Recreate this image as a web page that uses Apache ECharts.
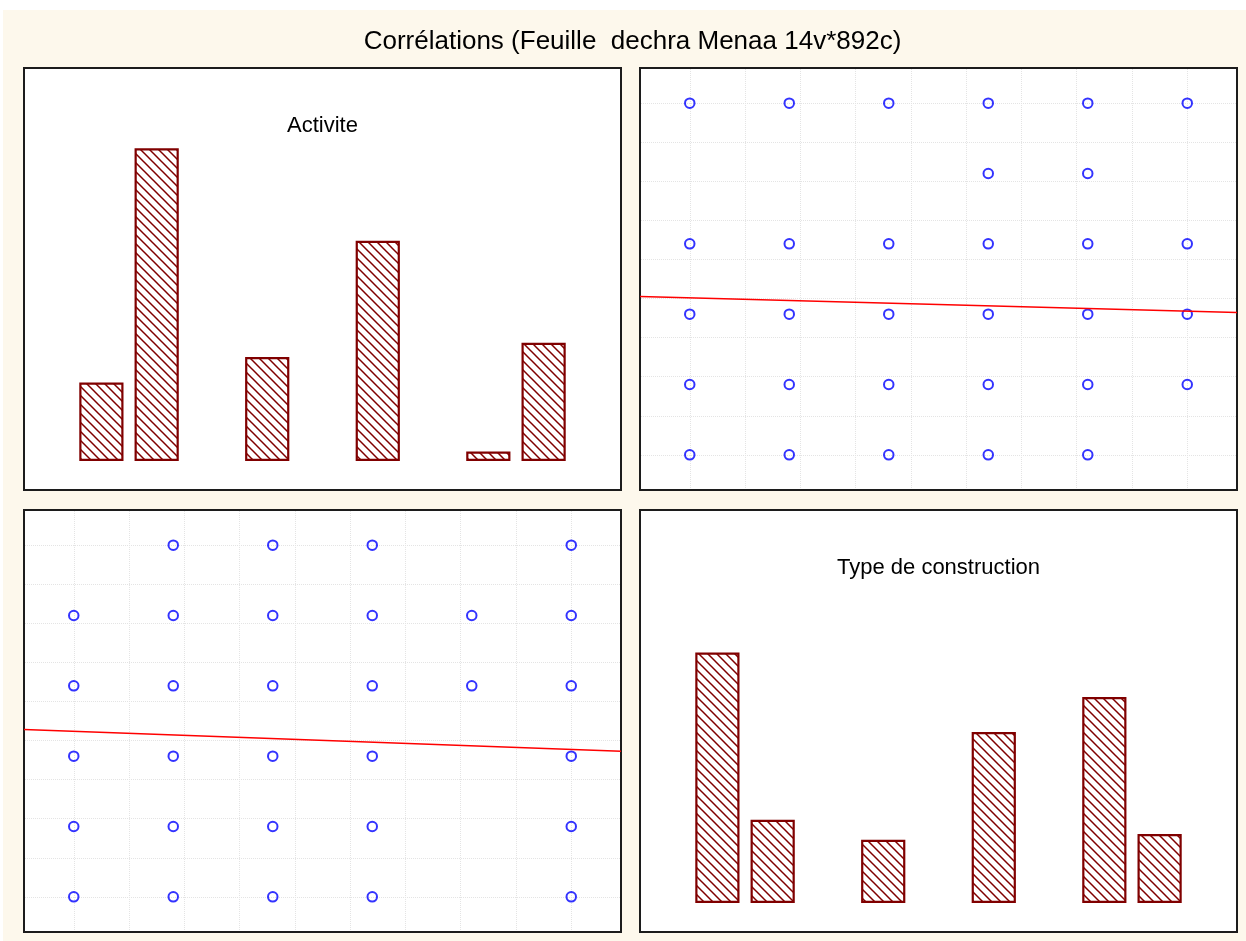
<!DOCTYPE html>
<html>
<head>
<meta charset="utf-8">
<title>Corrélations</title>
<script src="https://cdn.jsdelivr.net/npm/echarts@6/dist/echarts.min.js"></script>
<style>
  html, body { margin: 0; padding: 0; background: #ffffff; }
  #chart {
    width: 1246px; height: 941px;
    background: linear-gradient(#fdf8ec, #fdf8ec) 3px 10px / 100% 100% no-repeat, #ffffff;
  }
</style>
</head>
<body>
<div id="chart"></div>
<script>
// Histogram bins: nine equal intervals over the coded range 1..6
const binLabels = ['1,00-1,56', '1,56-2,11', '2,11-2,67', '2,67-3,22', '3,22-3,78',
                   '3,78-4,33', '4,33-4,89', '4,89-5,44', '5,44-6,00'];
// Case counts per bin (892 cases)
const activiteCounts = [83, 331, 0, 110, 0, 233, 0, 10, 125];
const typeCounts     = [265, 88, 0, 67, 0, 181, 0, 218, 73];

// Observed combinations of codes: [Type de construction, Activite]
const typeActivitePairs = [
  [1, 6], [2, 6], [3, 6], [4, 6], [5, 6], [6, 6],
  [4, 5], [5, 5],
  [1, 4], [2, 4], [3, 4], [4, 4], [5, 4], [6, 4],
  [1, 3], [2, 3], [3, 3], [4, 3], [5, 3], [6, 3],
  [1, 2], [2, 2], [3, 2], [4, 2], [5, 2], [6, 2],
  [1, 1], [2, 1], [3, 1], [4, 1], [5, 1]
];

// Least-squares lines, end points at the axis limits
const fitActiviteOnType = [[0.5, 3.252], [6.5, 3.022]];
const fitTypeOnActivite = [[0.5, 3.380], [6.5, 3.071]];

const mainTitle = 'Corrélations (Feuille  dechra Menaa 14v*892c)';
const varNames = ['Activite', 'Type de construction'];

// ---- layout of the 2x2 matrix ----
const BOX_W = 597, BOX_H = 422;
const CODE_MIN = 0.5, CODE_MAX = 6.5;
const panels = {
  tl: { x: 24,  y: 68 },
  tr: { x: 640, y: 68 },
  bl: { x: 24,  y: 510 },
  br: { x: 640, y: 510 }
};
const FONT = '"Liberation Sans", Arial, Helvetica, sans-serif';

function hatchPattern() {
  const s = 9;
  const c = document.createElement('canvas');
  c.width = s; c.height = s;
  const g = c.getContext('2d');
  g.fillStyle = '#ffffff';
  g.fillRect(0, 0, s, s);
  g.strokeStyle = '#800000';
  g.lineWidth = 1.5;
  g.beginPath();
  g.moveTo(-1, -1); g.lineTo(s + 1, s + 1);
  g.moveTo(-1, s - 1); g.lineTo(1, s + 1);
  g.moveTo(s - 1, -1); g.lineTo(s + 1, 1);
  g.stroke();
  return c;
}
const hatch = hatchPattern();

const grids = [], xAxes = [], yAxes = [], series = [], graphics = [];

function hiddenValueAxis(gridIndex) {
  return { type: 'value', gridIndex, show: false, min: 0, max: 1 };
}

function frameGrid(p) {
  grids.push({
    left: p.x, top: p.y, width: BOX_W, height: BOX_H,
    show: true, backgroundColor: '#ffffff',
    borderColor: '#1c1c1c', borderWidth: 2
  });
  return grids.length - 1;
}

const dottedSplit = {
  show: true,
  lineStyle: { type: 'dotted', color: '#e4e4e4', width: 1 }
};

function gridlineAxis(gridIndex) {
  return {
    type: 'value', gridIndex, min: 0, max: 9, interval: 1, z: 1,
    axisLine: { show: false }, axisTick: { show: false }, axisLabel: { show: false },
    splitLine: dottedSplit
  };
}

function histogramPanel(p, name, counts) {
  const f = frameGrid(p);
  xAxes.push(hiddenValueAxis(f));
  yAxes.push(hiddenValueAxis(f));

  grids.push({
    left: p.x + BOX_W / 12, width: BOX_W * 10 / 12,
    top: p.y + 15, height: 378
  });
  const g = grids.length - 1;
  xAxes.push({ type: 'category', gridIndex: g, data: binLabels, show: false });
  yAxes.push({ type: 'value', gridIndex: g, min: 0, max: 400, show: false });

  series.push({
    type: 'bar', name,
    xAxisIndex: xAxes.length - 1, yAxisIndex: yAxes.length - 1,
    data: counts.map(v => (v > 0 ? v : '-')),
    barCategoryGap: '20%',
    itemStyle: {
      color: { image: hatch, repeat: 'repeat' },
      borderColor: '#800000', borderWidth: 2.2
    },
    silent: true
  });

  graphics.push({
    type: 'text',
    x: p.x + BOX_W / 2, y: p.y + 58,
    style: {
      text: name, font: '22px ' + FONT, fill: '#000000',
      textAlign: 'center', textVerticalAlign: 'middle'
    }
  });
}

function scatterPanel(p, points, fit) {
  const f = frameGrid(p);
  xAxes.push({ type: 'value', gridIndex: f, min: CODE_MIN, max: CODE_MAX, show: false });
  yAxes.push({ type: 'value', gridIndex: f, min: CODE_MIN, max: CODE_MAX, show: false });
  const xi = xAxes.length - 1, yi = yAxes.length - 1;

  // vertical dotted lines at the bin edges
  grids.push({ left: p.x + BOX_W / 12, width: BOX_W * 10 / 12, top: p.y + 1, height: BOX_H - 2 });
  let g = grids.length - 1;
  xAxes.push(gridlineAxis(g));
  yAxes.push(hiddenValueAxis(g));

  // horizontal dotted lines at the bin edges
  grids.push({ left: p.x + 1, width: BOX_W - 2, top: p.y + BOX_H / 12, height: BOX_H * 10 / 12 });
  g = grids.length - 1;
  xAxes.push(hiddenValueAxis(g));
  yAxes.push(gridlineAxis(g));

  series.push({
    type: 'scatter',
    xAxisIndex: xi, yAxisIndex: yi,
    data: points,
    symbol: 'circle', symbolSize: 9.5,
    itemStyle: { color: 'rgba(0,0,0,0)', borderColor: '#0000ff', borderWidth: 2 },
    z: 2, silent: true
  });
  series.push({
    type: 'line',
    xAxisIndex: xi, yAxisIndex: yi,
    data: fit,
    symbol: 'none',
    lineStyle: { color: '#ff0000', width: 1.5 },
    z: 3, silent: true
  });
}

histogramPanel(panels.tl, varNames[0], activiteCounts);
scatterPanel(panels.tr, typeActivitePairs, fitActiviteOnType);
scatterPanel(panels.bl, typeActivitePairs.map(([t, a]) => [a, t]), fitTypeOnActivite);
histogramPanel(panels.br, varNames[1], typeCounts);

graphics.push({
  type: 'text',
  x: 632.5, y: 41.5,
  style: {
    text: mainTitle, font: '26px ' + FONT, fill: '#000000',
    textAlign: 'center', textVerticalAlign: 'middle'
  }
});

const chart = echarts.init(document.getElementById('chart'), null, { renderer: 'canvas' });
chart.setOption({
  animation: false,
  backgroundColor: 'transparent',
  grid: grids,
  xAxis: xAxes,
  yAxis: yAxes,
  series,
  graphic: graphics
});
</script>
</body>
</html>
